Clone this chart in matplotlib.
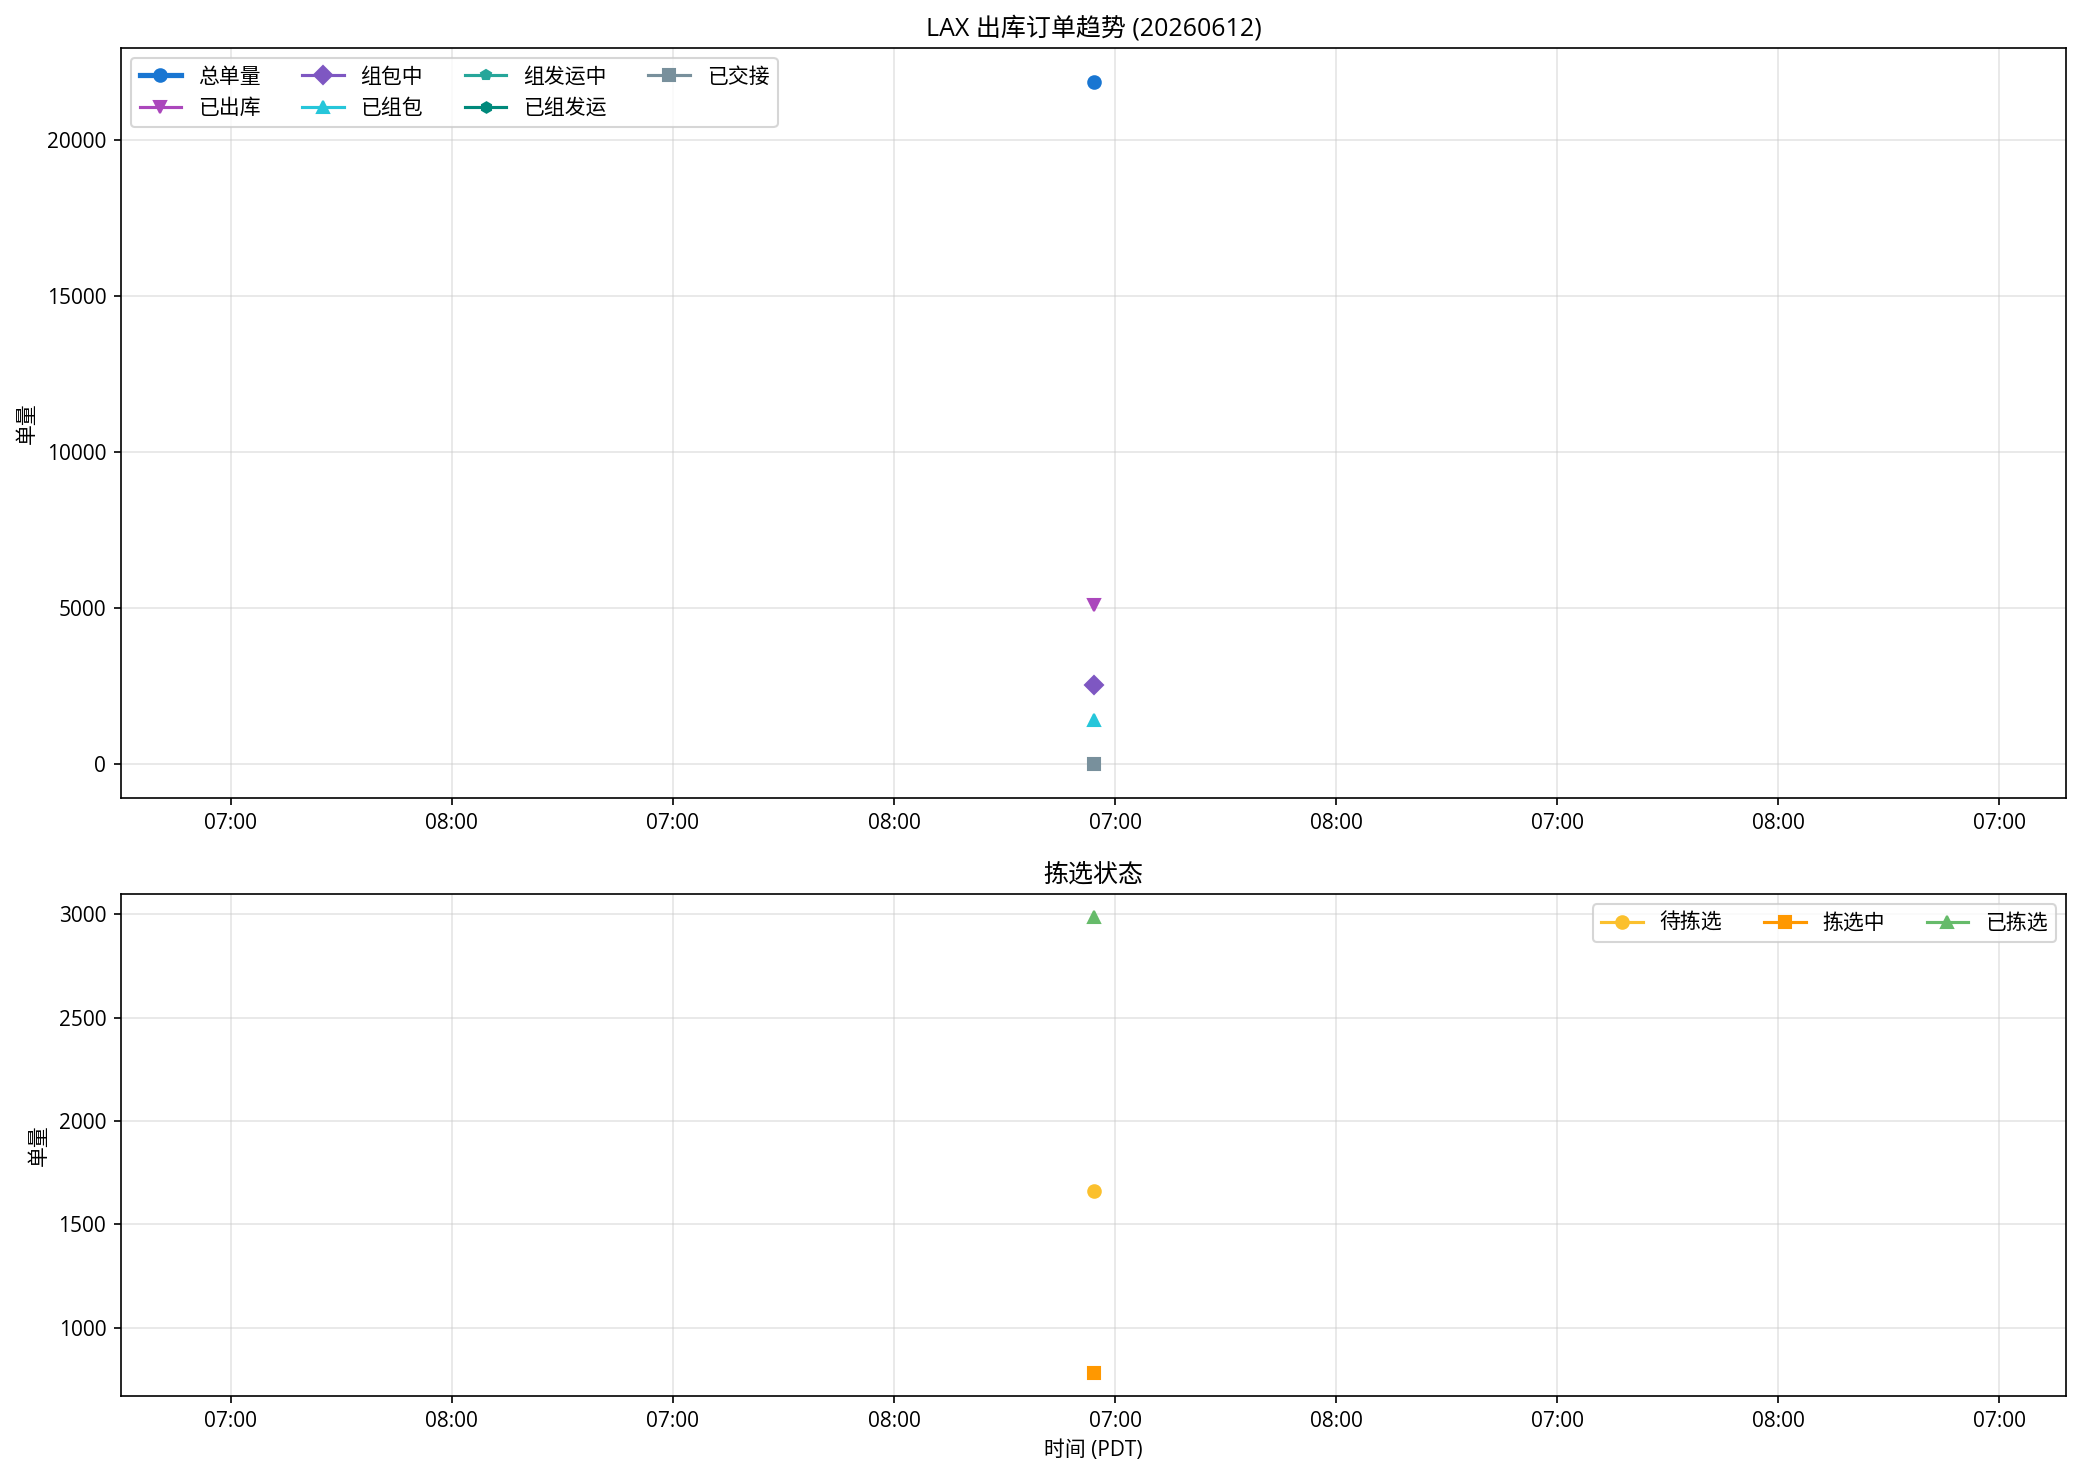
import matplotlib
matplotlib.use("Agg")
import matplotlib.pyplot as plt
from datetime import datetime, timedelta

# 拉丁字符用 Open Sans, 中文回落到 Noto Sans CJK SC
plt.rcParams['font.family'] = ['Open Sans', 'Noto Sans CJK SC', 'DejaVu Sans']
plt.rcParams['axes.unicode_minus'] = False

# 数据快照 (只有一个采样点)
snapshot_times = [datetime(2026, 6, 12, 5, 50)]

total_orders = [21860]
shipped_out = [5080]
packing = [2540]
packed = [1400]
grouping_ship = [0]
grouped_ship = [0]
handed_over = [0]

wait_pick = [1662]
picking = [781]
picked = [2987]

tick_labels = ['07:00', '08:00', '07:00', '08:00', '07:00', '08:00', '07:00', '08:00', '07:00']

top_series = [
    ('总单量', total_orders, '#1976D2', 'o', 6, 2.5),
    ('已出库', shipped_out, '#AB47BC', 'v', 6, 1.5),
    ('组包中', packing, '#7E57C2', 'D', 6, 1.5),
    ('已组包', packed, '#26C6DA', '^', 6, 1.5),
    ('组发运中', grouping_ship, '#26A69A', 'p', 5, 1.5),
    ('已组发运', grouped_ship, '#00897B', 'h', 5, 1.5),
    ('已交接', handed_over, '#78909C', 's', 6, 1.5),
]
pick_series = [
    ('待拣选', wait_pick, '#FBC02D', 'o', 6, 1.5),
    ('拣选中', picking, '#FF9800', 's', 6, 1.5),
    ('已拣选', picked, '#66BB6A', '^', 6, 1.5),
]

fig = plt.figure(figsize=(2083 / 150, 1479 / 150), dpi=150)
ax1 = fig.add_axes([0.058, 0.4604, 0.934, 0.5073])
ax2 = fig.add_axes([0.058, 0.0561, 0.934, 0.3394])

for name, vals, color, marker, ms, lw in top_series:
    ax1.plot(snapshot_times, vals, color=color, marker=marker, markersize=ms,
             linewidth=lw, label=name)
for name, vals, color, marker, ms, lw in pick_series:
    ax2.plot(snapshot_times, vals, color=color, marker=marker, markersize=ms,
             linewidth=lw, label=name)

# x 轴: 单点时前后各扩展 2.2 天, 每 12 小时一个刻度
t0 = snapshot_times[0]
base = datetime(2026, 6, 12, 7, 0)
ticks = [base + timedelta(hours=12 * (i - 4)) for i in range(len(tick_labels))]
for ax in (ax1, ax2):
    ax.set_xlim(t0 - timedelta(days=2.2), t0 + timedelta(days=2.2))
    ax.set_xticks(ticks)
    ax.set_xticklabels(tick_labels)
    ax.grid(True, color='#cccccc', alpha=0.5, linewidth=0.8)
    ax.set_ylabel('单量')
    ax.tick_params(labelsize=10)

ax1.set_title('LAX 出库订单趋势 (20260612)', fontsize=12)
ax1.legend(loc='upper left', ncol=4, fontsize=10)

ax2.set_title('拣选状态', fontsize=12)
ax2.set_xlabel('时间 (PDT)')
ax2.legend(loc='upper right', ncol=3, fontsize=10)

fig.savefig('out.png', dpi=150)
